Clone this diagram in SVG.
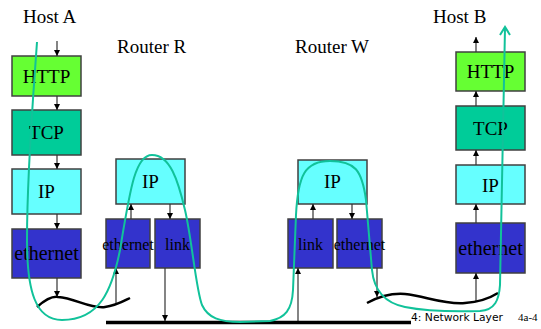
<svg xmlns="http://www.w3.org/2000/svg" width="541" height="329" viewBox="0 0 541 329">
<defs>
<marker id="ah" markerWidth="6" markerHeight="7" refX="6" refY="3" orient="auto" markerUnits="userSpaceOnUse">
<path d="M0,0 L6,3 L0,6 Z" fill="#000"/>
</marker>
<style>
.t{font-family:"Liberation Serif","Times New Roman",serif;fill:#000;}
.lbl{font-size:19px;}
.big{font-size:20px;}
.sm{font-size:16px;}
.box{stroke:#404040;stroke-width:1.5;}
.http{fill:#66ff33;}
.tcp{fill:#00cc99;}
.ip{fill:#66ffff;}
.eth{fill:#3333cc;}
.arr{stroke:#333;stroke-width:1.2;fill:none;marker-end:url(#ah);}
.wire{stroke:#000;stroke-width:2.5;fill:none;}
</style>
</defs>
<rect width="541" height="329" fill="#fff"/>

<text class="t lbl" x="23" y="23">Host A</text>
<text class="t lbl" x="117" y="53">Router R</text>
<text class="t lbl" x="295" y="53">Router W</text>
<text class="t lbl" x="433" y="23">Host B</text>

<g id="hostA-http"><rect class="box http" x="12" y="56" width="69" height="40"/><text class="t lbl" x="46.5" y="83" text-anchor="middle">HTTP</text></g>
<g id="hostA-tcp"><rect class="box tcp" x="12" y="110" width="69" height="45"/><text class="t lbl" x="46.5" y="139" text-anchor="middle">TCP</text></g>
<g id="hostA-ip"><rect class="box ip" x="12" y="169" width="69" height="45"/><text class="t lbl" x="46.5" y="198" text-anchor="middle">IP</text></g>
<g id="hostA-eth"><rect class="box eth" x="12" y="229" width="69" height="49"/><text class="t big" x="46.5" y="260" text-anchor="middle">ethernet</text></g>

<g id="routerR-ip"><rect class="box ip" x="116" y="159" width="69" height="45"/><text class="t lbl" x="150.5" y="188" text-anchor="middle">IP</text></g>
<g id="routerR-eth"><rect class="box eth" x="106" y="219" width="44" height="49"/><text class="t sm" x="128" y="250" text-anchor="middle">ethernet</text></g>
<g id="routerR-link"><rect class="box eth" x="155" y="219" width="45" height="49"/><text class="t sm" x="177.5" y="250" text-anchor="middle">link</text></g>

<g id="routerW-ip"><rect class="box ip" x="298" y="160" width="69" height="44"/><text class="t lbl" x="332.5" y="188" text-anchor="middle">IP</text></g>
<g id="routerW-link"><rect class="box eth" x="288" y="219" width="45" height="49"/><text class="t sm" x="310.5" y="250" text-anchor="middle">link</text></g>
<g id="routerW-eth"><rect class="box eth" x="337" y="219" width="45" height="49"/><text class="t sm" x="359.5" y="250" text-anchor="middle">ethernet</text></g>

<g id="hostB-http"><rect class="box http" x="456" y="52" width="69" height="39"/><text class="t lbl" x="490.5" y="78" text-anchor="middle">HTTP</text></g>
<g id="hostB-tcp"><rect class="box tcp" x="456" y="106" width="69" height="44"/><text class="t lbl" x="490.5" y="135" text-anchor="middle">TCP</text></g>
<g id="hostB-ip"><rect class="box ip" x="456" y="165" width="69" height="39"/><text class="t lbl" x="490.5" y="192" text-anchor="middle">IP</text></g>
<g id="hostB-eth"><rect class="box eth" x="456" y="223" width="69" height="50"/><text class="t big" x="490.5" y="255" text-anchor="middle">ethernet</text></g>

<g id="connectors">
<line class="arr" x1="57" y1="41" x2="57" y2="56"/>
<line class="arr" x1="57" y1="96" x2="57" y2="110"/>
<line class="arr" x1="57" y1="155" x2="57" y2="169"/>
<line class="arr" x1="57" y1="214" x2="57" y2="229"/>
<line class="arr" x1="57" y1="278" x2="57" y2="297"/>
<line class="arr" x1="116" y1="305" x2="116" y2="268"/>
<line class="arr" x1="131" y1="219" x2="131" y2="204"/>
<line class="arr" x1="170" y1="204" x2="170" y2="219"/>
<line class="arr" x1="165" y1="268" x2="165" y2="321"/>
<line class="arr" x1="298" y1="321" x2="298" y2="268"/>
<line class="arr" x1="313" y1="219" x2="313" y2="204"/>
<line class="arr" x1="352" y1="204" x2="352" y2="219"/>
<line class="arr" x1="377" y1="268" x2="377" y2="297"/>
<line class="arr" x1="476" y1="301" x2="476" y2="273"/>
<line class="arr" x1="476" y1="223" x2="476" y2="204"/>
<line class="arr" x1="476" y1="165" x2="476" y2="150"/>
<line class="arr" x1="476" y1="106" x2="476" y2="91"/>
<line class="arr" x1="476" y1="52" x2="476" y2="37"/>
<path class="wire" d="M37,307 C45,300 52,296 58,297 C75,298 90,309 105,307 C115,306 122,302 130,298"/>
<path class="wire" d="M367,303 C380,296 392,293 405,294 C425,296 445,305 465,303 C480,302 490,298 498,293"/>
<line x1="106" y1="322.5" x2="411" y2="322.5" stroke="#000" stroke-width="3.5"/>
<path d="M37,42 C33,100 27,170 27,240 C27,290 35,320 62,320 C100,320 112,290 120,250 C130,190 135,155 152,155 C170,155 178,180 185,210 C192,240 196,290 202,305 C208,318 220,322 240,322 L270,321 C285,318 292,310 293,290 L296,215 C298,175 305,161 330,161 C355,161 362,170 366,200 L372,270 C374,290 385,303 405,307 C425,311 445,312 480,311 C495,310 499,300 500,285 L505,28" fill="none" stroke="#11c29a" stroke-width="2"/>
<path d="M500,35 L505,27 L510,35" fill="none" stroke="#11c29a" stroke-width="2"/>
</g>

<text x="411" y="321" font-family="'DejaVu Sans',sans-serif" font-size="10" textLength="92" lengthAdjust="spacingAndGlyphs">4: Network Layer</text>
<text class="t" x="518" y="321" font-size="11">4a-4</text>
</svg>
